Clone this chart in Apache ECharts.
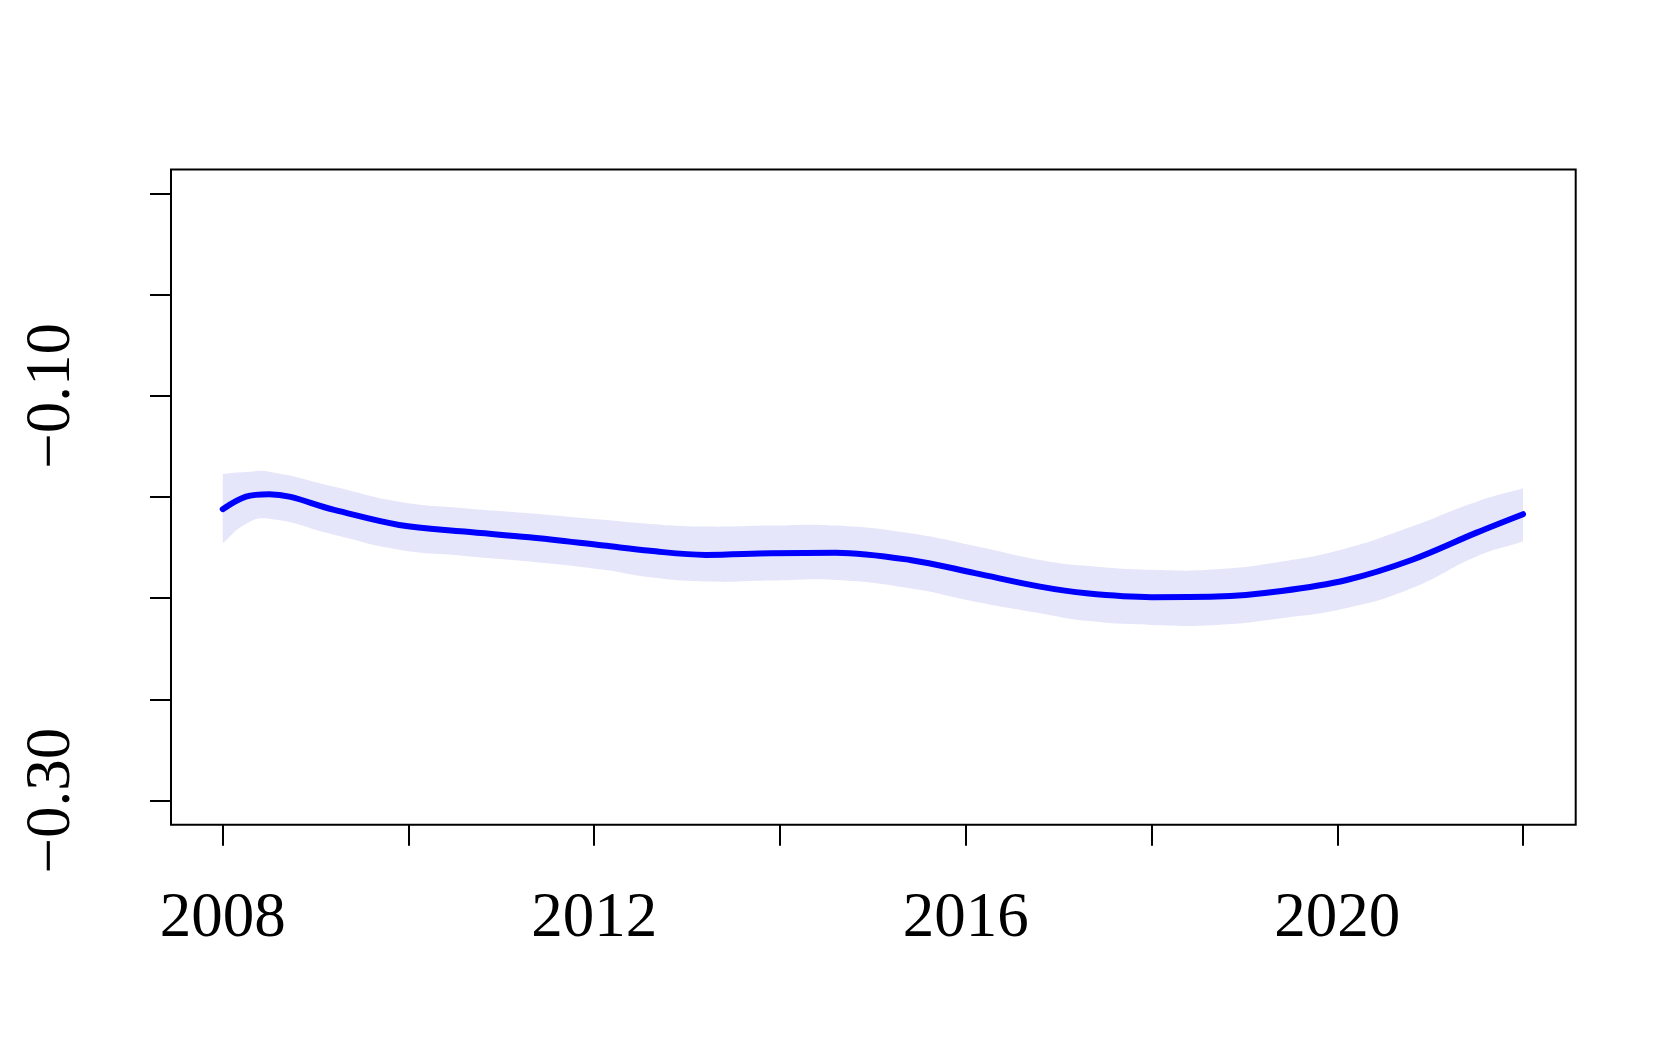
<!DOCTYPE html>
<html>
<head>
<meta charset="utf-8">
<style>
  html, body { margin: 0; padding: 0; background: #fff; }
  #chart { width: 1661px; height: 1038px; }
</style>
<script src="https://cdn.jsdelivr.net/npm/echarts@6/dist/echarts.min.js"></script>
</head>
<body>
<div id="chart"></div>
<script>
// years
const years = [2008.0, 2008.25, 2008.5, 2009.2, 2009.9, 2010.6, 2011.3, 2012.1, 2012.6, 2013.2, 2013.9, 2014.6,
  2015.4, 2016.1, 2016.8, 2017.3, 2018.0, 2018.7, 2019.4, 2020.1, 2020.8, 2021.5, 2022.0];
// fitted effect
const fit = [-0.1560, -0.1498, -0.1486, -0.1564, -0.1638, -0.1671, -0.1699, -0.1740, -0.1766, -0.1786, -0.1778, -0.1775,
  -0.1811, -0.1876, -0.1943, -0.1976, -0.1995, -0.1992, -0.1964, -0.1910, -0.1811, -0.1676, -0.1585];
// confidence band
const upper = [-0.1386, -0.1377, -0.1375, -0.1449, -0.1523, -0.1555, -0.1580, -0.1613, -0.1633, -0.1646, -0.1641, -0.1641,
  -0.1679, -0.1742, -0.1811, -0.1840, -0.1860, -0.1857, -0.1819, -0.1753, -0.1646, -0.1523, -0.1457];
const lower = [-0.1728, -0.1633, -0.1608, -0.1687, -0.1761, -0.1791, -0.1819, -0.1860, -0.1897, -0.1918, -0.1913, -0.1910,
  -0.1951, -0.2017, -0.2074, -0.2112, -0.2132, -0.2132, -0.2099, -0.2049, -0.1951, -0.1794, -0.1720];

const xTicks = [2008, 2010, 2012, 2014, 2016, 2018, 2020, 2022];
const xLabels = [2008, 2012, 2016, 2020];
const yTicks = [-0.30, -0.25, -0.20, -0.15, -0.10, -0.05, 0.00];
const yLabels = [-0.30, -0.10];

const FONT = "'Liberation Serif', 'DejaVu Serif', serif";
const BAND = "#E6E6FA";

const chart = echarts.init(document.getElementById("chart"), null, { renderer: "canvas" });

const option = {
  animation: false,
  backgroundColor: "#fff",
  grid: {
    left: 171,
    top: 169.5,
    right: 85.3,
    bottom: 213.3,
    show: true,
    borderColor: "#000",
    borderWidth: 2,
    backgroundColor: "transparent"
  },
  xAxis: {
    type: "value",
    min: 2007.443,
    max: 2022.567,
    axisLine: { show: false, onZero: false },
    splitLine: { show: false },
    axisTick: {
      show: true,
      length: 21,
      customValues: xTicks,
      lineStyle: { color: "#000", width: 2 }
    },
    axisLabel: {
      customValues: xLabels,
      margin: 63,
      fontFamily: FONT,
      fontSize: 63,
      color: "#000",
      formatter: v => String(v)
    }
  },
  yAxis: {
    type: "value",
    min: -0.3119,
    max: 0.0118,
    axisLine: { show: false, onZero: false },
    splitLine: { show: false },
    axisTick: {
      show: true,
      length: 21,
      customValues: yTicks,
      lineStyle: { color: "#000", width: 2 }
    },
    axisLabel: {
      customValues: yLabels,
      rotate: 90,
      margin: 87,
      fontFamily: FONT,
      fontSize: 63,
      color: "#000",
      formatter: v => (v < 0 ? "\u2212" : "") + Math.abs(v).toFixed(2)
    }
  },
  series: [
    {
      name: "band",
      type: "custom",
      silent: true,
      encode: { x: 0, y: [1, 2] },
      data: years.map((x, i) => [x, lower[i], upper[i]]),
      renderItem: function (params, api) {
        if (params.dataIndex !== 0) return null;
        const top = years.map((x, i) => api.coord([x, upper[i]]));
        const bot = years.map((x, i) => api.coord([x, lower[i]])).reverse();
        const n = top.length;
        // doubled corner points keep the band ends straight
        const pts = [top[0]].concat(top, [top[n - 1]], [bot[0]], bot, [bot[n - 1]]);
        return {
          type: "polygon",
          shape: { points: pts, smooth: 0.5 },
          style: { fill: BAND, stroke: null }
        };
      }
    },
    {
      name: "fit",
      type: "line",
      smooth: 0.35,
      symbol: "none",
      lineStyle: { color: "#0000FF", width: 6, cap: "round" },
      data: years.map((x, i) => [x, fit[i]])
    }
  ]
};

chart.setOption(option);
</script>
</body>
</html>
